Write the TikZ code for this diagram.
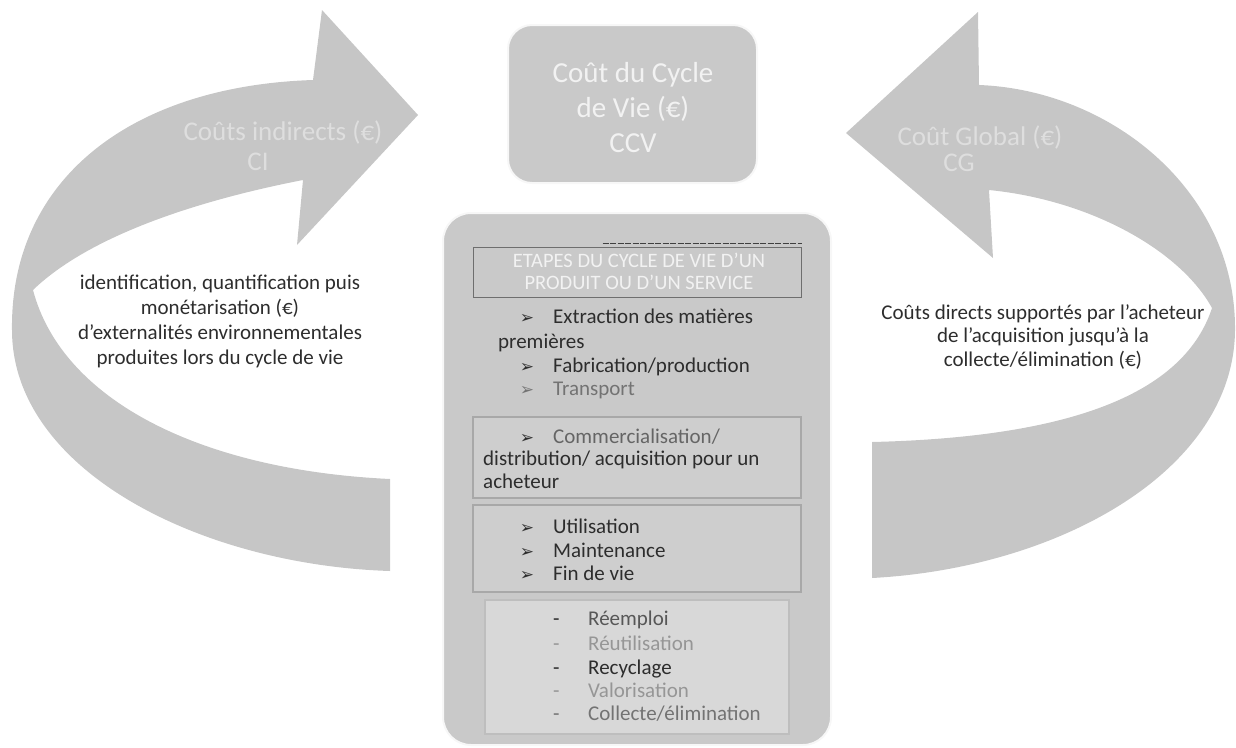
\documentclass[tikz,border=0pt]{standalone}
\usepackage{fontspec}
\setmainfont{Carlito}
\newfontfamily\symfont{DejaVu Sans}
\usetikzlibrary{calc}
\definecolor{bandgray}{RGB}{198,198,198}
\definecolor{boxgray}{RGB}{201,201,201}
\definecolor{subgray}{RGB}{206,206,206}
\definecolor{subedge}{RGB}{168,168,168}
\definecolor{hdredge}{RGB}{110,110,110}
\definecolor{ink}{RGB}{45,45,45}
\definecolor{softink}{RGB}{115,115,115}
\definecolor{paleink}{RGB}{150,150,150}
\definecolor{labelgray}{RGB}{222,222,222}
\definecolor{whiteink}{RGB}{242,242,242}
\begin{document}
\begin{tikzpicture}[x=1pt,y=-1pt,
  band/.style={fill=bandgray,draw=none},
  bigbox/.style={fill=boxgray,draw=white!85!boxgray,line width=2pt,rounded corners=28pt,inner sep=0pt},
  subbox/.style={fill=subgray,draw=subedge,line width=1.2pt,inner sep=0pt,minimum width=328pt},
  hdrbox/.style={fill=boxgray,draw=hdredge,line width=1pt,inner sep=0pt,minimum width=328pt,minimum height=50pt},
  body/.style={font=\fontsize{21}{24}\selectfont,text=ink,inner sep=0pt},
  item/.style={body,anchor=base west},
  bullet/.style={font=\symfont\fontsize{17}{17}\selectfont,text=ink,inner sep=0pt,anchor=base},
  biglabel/.style={font=\fontsize{27}{30}\selectfont,text=labelgray,inner sep=0pt},
  scanline/.style={draw=black!75,line width=0.8pt,dash pattern=on 6pt off 1.5pt}
]
\useasboundingbox (0,0) rectangle (1236,747);

% left curved arrow (indirect costs), head pointing right
\fill[band] (313,80) .. controls (130,86) and (10,180) .. (12,330)
  .. controls (12,470) and (200,565) .. (390,571) -- (390,479)
  .. controls (200,470) and (62,400) .. (33,290)
  .. controls (90,235) and (200,200) .. (303,180)
  -- (297,245) -- (418,115) -- (322,10) -- cycle;

% right curved arrow (global cost), head pointing left
\fill[band] (979,85) .. controls (1110,90) and (1236,190) .. (1235,330)
  .. controls (1234,470) and (1060,568) .. (872,578) -- (872,442)
  .. controls (1080,437) and (1185,390) .. (1212,308)
  .. controls (1180,250) and (1090,200) .. (989,190)
  -- (993,258) -- (846,133) -- (978,12) -- cycle;

% arrow labels
\node[biglabel] (citxt) at (283,132) {Coûts indirects (€)};
\node[biglabel] (cicode) at (258,162) {CI};
\node[biglabel] (cgtxt) at (980,137) {Coût Global (€)};
\node[biglabel] (cgcode) at (959,163) {CG};

% explanatory texts inside the loops
\node[body,align=center,font=\fontsize{21}{25}\selectfont] (citext) at (220,321)
  {identification, quantification puis\\monétarisation (€)\\d’externalités environnementales\\produites lors du cycle de vie};
\node[body,align=center,font=\fontsize{21}{23.5}\selectfont] (cgtext) at (1043,337)
  {Coûts directs supportés par l’acheteur\\de l’acquisition jusqu’à la\\collecte/élimination (€)};

% life cycle cost box
\node[bigbox,rounded corners=24pt,minimum width=249pt,minimum height=158pt] (ccv) at (632.5,104) {};
\node[inner sep=0pt,align=center,text=whiteink,font=\fontsize{29}{35}\selectfont] (ccvtxt) at (633,108)
  {Coût du Cycle\\de Vie (€)\\CCV};

% life cycle stages box
\node[bigbox,minimum width=388pt,minimum height=532pt] (stages) at (637,479) {};
\node[hdrbox] (hdr) at (637,272) {};
\node[inner sep=0pt,align=center,text=whiteink,font=\fontsize{20.5}{22}\selectfont] (hdrtxt) at (639,271.5)
  {ETAPES DU CYCLE DE VIE D’UN\\PRODUIT OU D’UN SERVICE};
\draw[scanline] ($(hdr.north west)+(130,-3)$) -- ($(hdr.north east)+(0,-3)$);

% production stages
\node[bullet] (b1) at (527,323) {➢};
\node[item] (s1) at (553,323) {Extraction des matières};
\node[item] (s1b) at (498,348) {premières};
\node[bullet] (b2) at (527,372) {➢};
\node[item] (s2) at (553,372) {Fabrication/production};
\node[bullet,text=softink] (b3) at (527,395) {➢};
\node[item,text=softink] (s3) at (553,395) {Transport};

% purchase stage
\node[subbox,minimum height=81pt] (buy) at (637,457.5) {};
\node[bullet] (b4) at (527,443) {➢};
\node[item,text=softink!80!ink] (s4) at (553,443) {Commercialisation/};
\node[item] (s4b) at (483,465) {distribution/ acquisition pour un};
\node[item] (s4c) at (483,488) {acheteur};

% use stage
\node[subbox,minimum height=87pt] (use) at (637,548.5) {};
\node[bullet] (b5) at (527,533) {➢};
\node[item] (s5) at (553,533) {Utilisation};
\node[bullet] (b6) at (527,557) {➢};
\node[item] (s6) at (553,557) {Maintenance};
\node[bullet] (b7) at (527,580) {➢};
\node[item] (s7) at (553,580) {Fin de vie};

% end of life options
\node[subbox,fill=white!20!subgray,draw=white!25!subedge,minimum width=304pt,minimum height=134pt] (eol) at (637,667) {};
\node[item,text=ink] (d1) at (553,625) {-};
\node[item,text=softink!60!ink] (e1) at (588,625) {Réemploi};
\node[item,text=paleink] (d2) at (553,650) {-};
\node[item,text=paleink] (e2) at (588,650) {Réutilisation};
\node[item,text=ink] (d3) at (553,674) {-};
\node[item,text=ink] (e3) at (588,674) {Recyclage};
\node[item,text=paleink] (d4) at (553,697) {-};
\node[item,text=paleink] (e4) at (588,697) {Valorisation};
\node[item,text=softink] (d5) at (553,720) {-};
\node[item,text=softink] (e5) at (588,720) {Collecte/élimination};
\end{tikzpicture}
\end{document}
